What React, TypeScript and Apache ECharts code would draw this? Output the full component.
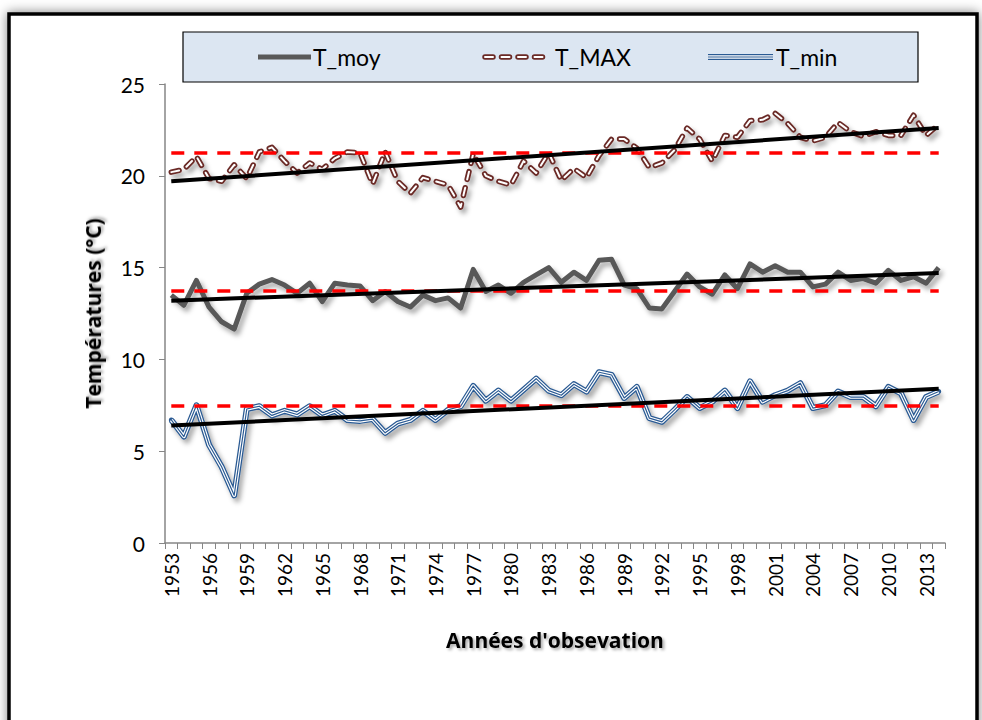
import React, { useEffect, useRef } from "react";
import * as echarts from "echarts";

const years = [
  "1953","1954","1955","1956","1957","1958","1959","1960","1961","1962",
  "1963","1964","1965","1966","1967","1968","1969","1970","1971","1972",
  "1973","1974","1975","1976","1977","1978","1979","1980","1981","1982",
  "1983","1984","1985","1986","1987","1988","1989","1990","1991","1992",
  "1993","1994","1995","1996","1997","1998","1999","2000","2001","2002",
  "2003","2004","2005","2006","2007","2008","2009","2010","2011","2012",
  "2013","2014",
];

const tMoy = [
  13.5, 12.95, 14.3, 12.85, 12.05, 11.65, 13.6, 14.1, 14.35, 14.05,
  13.6, 14.15, 13.15, 14.15, 14.05, 14.0, 13.2, 13.7, 13.15, 12.85,
  13.5, 13.2, 13.35, 12.8, 14.9, 13.7, 14.05, 13.6, 14.2, 14.6,
  15.0, 14.2, 14.75, 14.3, 15.4, 15.45, 14.05, 13.85, 12.8, 12.75,
  13.7, 14.65, 13.95, 13.55, 14.6, 13.85, 15.2, 14.75, 15.1, 14.75,
  14.75, 13.95, 14.1, 14.75, 14.3, 14.4, 14.15, 14.85, 14.3, 14.5,
  14.15, 15.0,
];

const tMax = [
  20.2, 20.35, 21.05, 19.85, 19.7, 20.6, 19.85, 21.3, 21.55, 20.8,
  20.15, 20.7, 20.35, 20.95, 21.3, 21.25, 19.55, 21.3, 19.7, 19.05,
  19.9, 19.7, 19.5, 18.3, 21.2, 20.0, 19.7, 19.5, 20.8, 20.15,
  21.25, 19.75, 20.4, 19.9, 21.1, 22.0, 22.0, 21.5, 20.45, 20.7,
  21.4, 22.6, 22.0, 20.8, 22.2, 22.1, 23.0, 23.05, 23.4, 22.85,
  22.1, 21.9, 22.1, 22.9, 22.4, 22.15, 22.4, 22.2, 22.2, 23.3,
  22.2, 22.8,
];

const tMin = [
  6.7, 5.8, 7.5, 5.35, 4.15, 2.6, 7.3, 7.45, 6.95, 7.2,
  7.0, 7.45, 6.95, 7.2, 6.7, 6.65, 6.75, 6.0, 6.5, 6.7,
  7.2, 6.7, 7.25, 7.45, 8.55, 7.75, 8.3, 7.75, 8.35, 8.95,
  8.3, 8.05, 8.65, 8.25, 9.3, 9.15, 7.9, 8.5, 6.8, 6.6,
  7.25, 7.95, 7.35, 7.7, 8.3, 7.35, 8.8, 7.7, 8.05, 8.3,
  8.7, 7.35, 7.5, 8.25, 7.95, 7.95, 7.45, 8.5, 8.15, 6.7,
  7.95, 8.25,
];

// mean levels (horizontal dashed red) and linear trends (start, end)
const meanLevels = [21.25, 13.73, 7.5];
const trendMax = [19.7, 22.6];
const trendMoy = [13.2, 14.7];
const trendMin = [6.4, 8.4];

const yTicks = [0, 5, 10, 15, 20, 25];

const FONT = "Lato, 'Liberation Sans', sans-serif";
const TITLE_FONT = "'Open Sans', Lato, sans-serif";
const MAXC = "#6b2a26";
const MINC = "#2a5a93";
const MOYC = "#595959";
const SH = { shadowColor: "rgba(0,0,0,0.35)", shadowBlur: 5, shadowOffsetX: 3, shadowOffsetY: 4 };
const DASH = [8, 8.5];

export default function App() {
  const ref = useRef<HTMLDivElement>(null);
  useEffect(() => {
    if (!ref.current) return;
    const chart = echarts.init(ref.current, null, { renderer: "svg" });
    const first = years[0];
    const last = years[years.length - 1];
    const trendStyle = { color: "#000", width: 4, type: "solid" as const };
    const meanStyle = { color: "#ff0000", width: 3.5, type: [13, 10] };
    const markLineData = [
      [{ coord: [first, meanLevels[0]], lineStyle: meanStyle }, { coord: [last, meanLevels[0]] }],
      [{ coord: [first, meanLevels[1]], lineStyle: meanStyle }, { coord: [last, meanLevels[1]] }],
      [{ coord: [first, meanLevels[2]], lineStyle: meanStyle }, { coord: [last, meanLevels[2]] }],
      [{ coord: [first, trendMax[0]], lineStyle: trendStyle }, { coord: [last, trendMax[1]] }],
      [{ coord: [first, trendMoy[0]], lineStyle: trendStyle }, { coord: [last, trendMoy[1]] }],
      [{ coord: [first, trendMin[0]], lineStyle: trendStyle }, { coord: [last, trendMin[1]] }],
    ];
    const titleStyle = {
      fontFamily: TITLE_FONT, fontWeight: "bold", fontSize: 21, color: "#000",
      textShadowColor: "rgba(0,0,0,0.35)", textShadowBlur: 3, textShadowOffsetX: 2, textShadowOffsetY: 2,
    };

    const option: any = {
      animation: false,
      backgroundColor: "#ffffff",
      grid: { left: 165, right: 37, top: 84, bottom: 177, containLabel: false },
      xAxis: {
        type: "category",
        data: years,
        boundaryGap: true,
        name: "Années d'obsevation",
        nameLocation: "middle",
        nameGap: 86,
        nameTextStyle: titleStyle,
        axisLine: { lineStyle: { color: "#868686", width: 1.5 } },
        axisTick: { show: true, interval: 0, length: 6, lineStyle: { color: "#868686" } },
        axisLabel: { interval: 2, rotate: 90, margin: 10, fontFamily: FONT, fontSize: 19, color: "#000" },
        splitLine: { show: false },
      },
      yAxis: {
        type: "value",
        min: yTicks[0],
        max: yTicks[yTicks.length - 1],
        interval: 5,
        name: "Températures (°C)",
        nameLocation: "middle",
        nameGap: 62,
        nameTextStyle: titleStyle,
        axisLine: { show: true, lineStyle: { color: "#868686", width: 1.5 } },
        axisTick: { show: true, length: 6, lineStyle: { color: "#868686" } },
        axisLabel: { margin: 20, fontFamily: FONT, fontSize: 21, color: "#000" },
        splitLine: { show: false },
      },
      graphic: [
        {
          type: "rect", z: -10, silent: true,
          shape: { x: 9, y: 14, width: 968, height: 730 },
          style: { fill: "#fff", stroke: "#000", lineWidth: 3.5, shadowBlur: 12, shadowColor: "rgba(0,0,0,0.5)" },
        },
        {
          type: "rect", z: 10, silent: true,
          shape: { x: 183, y: 32, width: 735, height: 50 },
          style: { fill: "#dce6f2", stroke: "#000", lineWidth: 1.2 },
        },
        { type: "line", z: 11, shape: { x1: 258, y1: 57, x2: 311, y2: 57 }, style: { stroke: MOYC, lineWidth: 5 } },
        { type: "text", z: 11, x: 313, y: 57, style: { text: "T_moy", fill: "#000", font: `23px ${FONT}`, verticalAlign: "middle" } },
        { type: "line", z: 11, shape: { x1: 485, y1: 57, x2: 543, y2: 57 }, style: { stroke: MAXC, lineWidth: 5.5, lineDash: DASH, lineCap: "round" } },
        { type: "line", z: 12, shape: { x1: 485, y1: 57, x2: 543, y2: 57 }, style: { stroke: "#fff", lineWidth: 2, lineDash: DASH, lineCap: "round" } },
        { type: "text", z: 11, x: 555, y: 57, style: { text: "T_MAX", fill: "#000", font: `23px ${FONT}`, verticalAlign: "middle" } },
        { type: "line", z: 11, shape: { x1: 708, y1: 57, x2: 773, y2: 57 }, style: { stroke: MINC, lineWidth: 6 } },
        { type: "line", z: 12, shape: { x1: 708, y1: 57, x2: 773, y2: 57 }, style: { stroke: "#fff", lineWidth: 3.5 } },
        { type: "line", z: 13, shape: { x1: 708, y1: 57, x2: 773, y2: 57 }, style: { stroke: MINC, lineWidth: 1.2 } },
        { type: "text", z: 11, x: 776, y: 57, style: { text: "T_min", fill: "#000", font: `23px ${FONT}`, verticalAlign: "middle" } },
      ],
      series: [
        {
          name: "T_moy", type: "line", data: tMoy, symbol: "none", z: 2,
          lineStyle: { color: MOYC, width: 5, join: "round", ...SH },
        },
        {
          name: "T_MAX", type: "line", data: tMax, symbol: "none", z: 2,
          lineStyle: { color: MAXC, width: 5.5, type: DASH, cap: "round", join: "round", ...SH },
        },
        {
          name: "T_MAX_inner", type: "line", data: tMax, symbol: "none", z: 3,
          lineStyle: { color: "#ffffff", width: 2, type: DASH, cap: "round", join: "round" },
        },
        {
          name: "T_min", type: "line", data: tMin, symbol: "circle", symbolSize: 5, z: 2,
          itemStyle: { color: MINC },
          lineStyle: { color: MINC, width: 6, join: "round", ...SH },
        },
        {
          name: "T_min_inner", type: "line", data: tMin, symbol: "none", z: 3,
          lineStyle: { color: "#ffffff", width: 3.5, join: "round" },
        },
        {
          name: "T_min_core", type: "line", data: tMin, symbol: "none", z: 4,
          lineStyle: { color: MINC, width: 1.2, join: "round" },
          markLine: {
            silent: true,
            symbol: ["none", "none"],
            label: { show: false },
            z: 6,
            data: markLineData,
          },
        },
      ],
    };
    chart.setOption(option);
    return () => chart.dispose();
  }, []);
  return (
    <div
      ref={ref}
      style={{ position: "fixed", left: 0, top: 0, width: 982, height: 720 }}
    />
  );
}
